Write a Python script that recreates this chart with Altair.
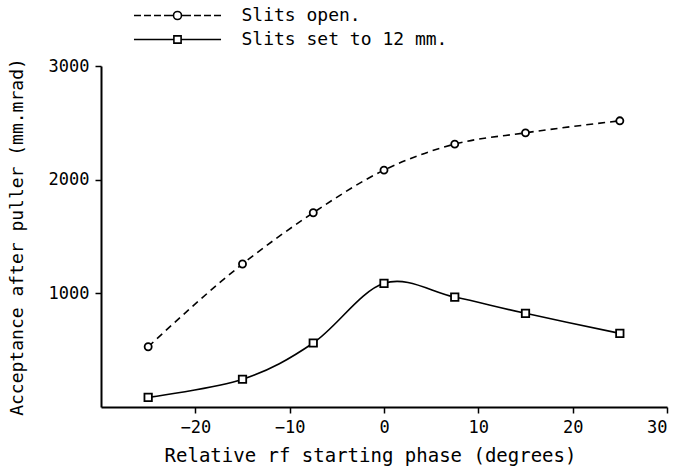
import altair as alt
import pandas as pd

# ---- data ----
series_names = ["Slits open.", "Slits set to 12 mm."]
phase_open = [-25, -15, -7.5, 0, 7.5, 15, 25]
acc_open = [530, 1258, 1709, 2084, 2313, 2412, 2518]
phase_slits = [-25, -15, -7.5, 0, 7.5, 15, 25]
acc_slits = [85, 244, 563, 1088, 967, 824, 648]
x_ticks = [-20, -10, 0, 10, 20, 30]
y_ticks = [1000, 2000, 3000]

rows = []
for p, a in zip(phase_open, acc_open):
    rows.append({"phase": p, "acc": a, "series": series_names[0]})
for p, a in zip(phase_slits, acc_slits):
    rows.append({"phase": p, "acc": a, "series": series_names[1]})
df = pd.DataFrame(rows)

FONT = "DejaVu Sans Mono"

x_enc = alt.X("phase:Q", scale=alt.Scale(domain=[-30, 30], nice=False, zero=False),
              axis=alt.Axis(values=x_ticks, format="d",
                            title="Relative rf starting phase (degrees)",
                            titleY=48, titleX=269, titleAlign="center",
                            titleBaseline="middle", titleFontSize=19))
y_enc = alt.Y("acc:Q", scale=alt.Scale(domain=[0, 3000], nice=False),
              axis=alt.Axis(values=y_ticks, format="d",
                            title="Acceptance after puller (mm.mrad)",
                            titleX=-84, titleBaseline="middle", titleAngle=-90,
                            titleAlign="center", titleFontSize=18))

base = alt.Chart(df)

lines = base.transform_filter(alt.datum.series == series_names[0]).mark_line(
    color="black", strokeWidth=1.6, interpolate="monotone", strokeDash=[7, 5]
).encode(x=x_enc, y=y_enc)

lines2 = base.transform_filter(alt.datum.series == series_names[1]).mark_line(
    color="black", strokeWidth=1.6, interpolate="cardinal", tension=0
).encode(x=x_enc, y=y_enc)

circles = base.transform_filter(alt.datum.series == series_names[0]).mark_point(
    shape="circle", filled=True, fill="white", stroke="black", strokeWidth=1.8, size=50, opacity=1
).encode(x=x_enc, y=y_enc)

squares = base.transform_filter(alt.datum.series == series_names[1]).mark_point(
    shape="square", filled=True, fill="white", stroke="black", strokeWidth=1.8, size=55, opacity=1
).encode(x=x_enc, y=y_enc)

# legend glyphs: dashed line + circle, solid line + square (symbol path units)
path_circle = ("M-5.44,0H-4.56M-4.19,0H-3.31M-2.94,0H-2.06M-1.69,0H-0.5"
               "M0.5,0H1.69M2.06,0H2.94M3.31,0H4.19M4.56,0H5.44"
               "M-0.5,0A0.5,0.5,0,1,0,0.5,0A0.5,0.5,0,1,0,-0.5,0")
path_square = "M-5.44,0H-0.45M0.45,0H5.44M-0.45,-0.45H0.45V0.45H-0.45Z"

legend = alt.Legend(orient="none", legendX=67.5, legendY=-59.5, title=None,
                    symbolSize=256, symbolStrokeWidth=1.6, symbolStrokeColor="black",
                    symbolFillColor="transparent", symbolOpacity=1,
                    labelFont=FONT, labelFontSize=18, labelColor="black", labelLimit=0,
                    labelOffset=55, rowPadding=6, padding=0)

legend_layer = base.mark_point(filled=False, color="black", opacity=0, size=10).encode(
    x=x_enc, y=y_enc,
    shape=alt.Shape("series:N", scale=alt.Scale(domain=series_names,
                                                range=[path_circle, path_square]),
                    legend=legend),
)

chart = alt.layer(lines, lines2, circles, squares, legend_layer).properties(
    width=566, height=341,
    autosize=alt.AutoSizeParams(type="none"),
    padding={"left": 101, "top": 66, "right": 13, "bottom": 65},
    background="white",
).configure_view(stroke=None).configure_axis(
    grid=False, domainColor="black", domainWidth=2, tickColor="black", tickWidth=1.5,
    tickSize=6, labelFont=FONT, labelFontSize=17, labelColor="black", labelPadding=6,
    titleFont=FONT, titleFontSize=18, titleFontWeight="normal", titleColor="black",
)

chart.save("out.html", embed_options={"renderer": "svg", "actions": False})
